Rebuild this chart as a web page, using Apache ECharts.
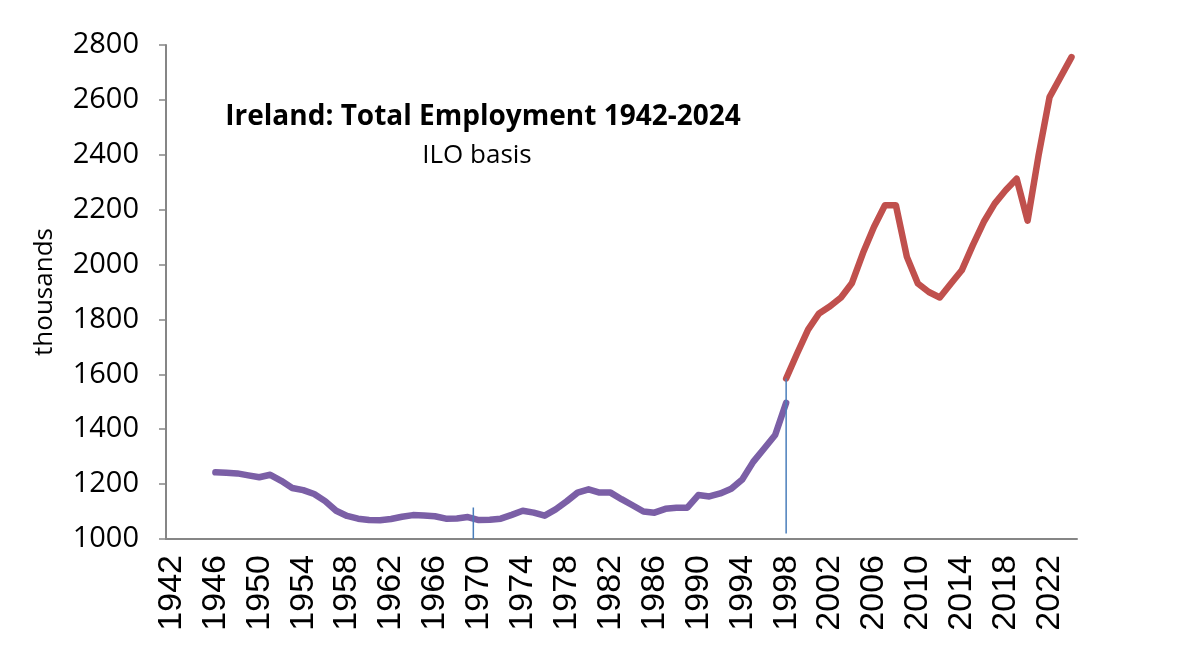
<!DOCTYPE html>
<html>
<head>
<meta charset="utf-8">
<script src="https://cdn.jsdelivr.net/npm/echarts@6/dist/echarts.min.js"></script>
<style>
  html, body { margin: 0; padding: 0; background: #fff; }
  #chart { width: 1200px; height: 646px; }
</style>
</head>
<body>
<div id="chart"></div>
<script>
// years on the category axis
var years = [
  '1942','1943','1944','1945','1946','1947','1948','1949','1950','1951',
  '1952','1953','1954','1955','1956','1957','1958','1959','1960','1961',
  '1962','1963','1964','1965','1966','1967','1968','1969','1970','1971',
  '1972','1973','1974','1975','1976','1977','1978','1979','1980','1981',
  '1982','1983','1984','1985','1986','1987','1988','1989','1990','1991',
  '1992','1993','1994','1995','1996','1997','1998','1999','2000','2001',
  '2002','2003','2004','2005','2006','2007','2008','2009','2010','2011',
  '2012','2013','2014','2015','2016','2017','2018','2019','2020','2021',
  '2022','2023','2024'
];

// old series, 1946-1998 (thousands)
var oldStart = 1946;
var oldValues = [
  1243, 1241, 1239, 1232, 1225, 1234, 1212, 1186, 1178, 1164,
  1138, 1103, 1084, 1074, 1069, 1068, 1073, 1081, 1087, 1086,
  1083, 1074, 1075, 1080, 1069, 1070, 1074, 1088, 1103, 1096,
  1085, 1108, 1137, 1169, 1181, 1169, 1169, 1145, 1123, 1100,
  1096, 1110, 1114, 1114, 1160, 1155, 1166, 1183, 1217, 1281,
  1330, 1379, 1496
];

// ILO series, 1998-2024 (thousands)
var iloStart = 1998;
var iloValues = [
  1585, 1676, 1763, 1822, 1848, 1880, 1933, 2042, 2137, 2216,
  2216, 2028, 1931, 1900, 1880, 1930, 1979, 2070, 2155, 2222,
  2271, 2313, 2160, 2398, 2610, 2683, 2756
];

// series breaks (blue vertical markers)
var breakX = [1969.5, 1998];
var breakFrom = [1000, 1020];
var breakTo = [1115, 1585];

function toPairs(start, vals) {
  var out = [];
  for (var i = 0; i < vals.length; i++) {
    out.push([String(start + i), vals[i]]);
  }
  return out;
}

var chart = echarts.init(document.getElementById('chart'));

var series = [{
  type: 'line',
  data: toPairs(oldStart, oldValues),
  symbol: 'none',
  lineStyle: { color: '#7b5fa6', width: 6.5, cap: 'round', join: 'round' },
  itemStyle: { color: '#7b5fa6' },
  z: 3
}, {
  type: 'line',
  data: toPairs(iloStart, iloValues),
  symbol: 'none',
  lineStyle: { color: '#c0504d', width: 6.5, cap: 'round', join: 'round' },
  itemStyle: { color: '#c0504d' },
  z: 3
}];

for (var b = 0; b < breakX.length; b++) {
  series.push({
    type: 'line',
    xAxisIndex: 1,
    data: [[breakX[b], breakFrom[b]], [breakX[b], breakTo[b]]],
    symbol: 'none',
    lineStyle: { color: '#4a7ebb', width: 1.5 },
    z: 4
  });
}

var option = {
  backgroundColor: '#fff',
  animation: false,
  title: [{
    text: 'Ireland: Total Employment 1942-2024',
    left: 478,
    top: 98,
    textAlign: 'center',
    textStyle: { fontFamily: 'Open Sans', fontWeight: 'bold', fontSize: 28, color: '#000' }
  }, {
    text: 'ILO basis',
    left: 472,
    top: 138,
    textAlign: 'center',
    textStyle: { fontFamily: 'Open Sans', fontWeight: 'normal', fontSize: 26, color: '#000' }
  }],
  grid: { left: 166, right: 123, top: 45, bottom: 107 },
  xAxis: [{
    type: 'category',
    data: years,
    boundaryGap: true,
    axisLine: { lineStyle: { color: '#868686', width: 2 } },
    axisTick: { interval: 0, length: 7, lineStyle: { color: '#868686', width: 1.5 } },
    axisLabel: {
      interval: 3,
      rotate: 90,
      margin: 16,
      fontFamily: 'Liberation Sans',
      fontSize: 34,
      color: '#000'
    },
    splitLine: { show: false }
  }, {
    type: 'value',
    show: false,
    min: 1941.5,
    max: 2024.5
  }],
  yAxis: {
    type: 'value',
    min: 1000,
    max: 2800,
    interval: 200,
    name: 'thousands',
    nameLocation: 'middle',
    nameGap: 108,
    nameTextStyle: { fontFamily: 'Open Sans', fontSize: 26, color: '#000' },
    axisLine: { show: true, lineStyle: { color: '#868686', width: 2 } },
    axisTick: { show: true, length: 7, lineStyle: { color: '#868686', width: 1.5 } },
    axisLabel: {
      margin: 27,
      fontFamily: 'Open Sans',
      fontSize: 29,
      color: '#000',
      formatter: function (v) { return String(v); }
    },
    splitLine: { show: false }
  },
  series: series
};

chart.setOption(option);
</script>
</body>
</html>
